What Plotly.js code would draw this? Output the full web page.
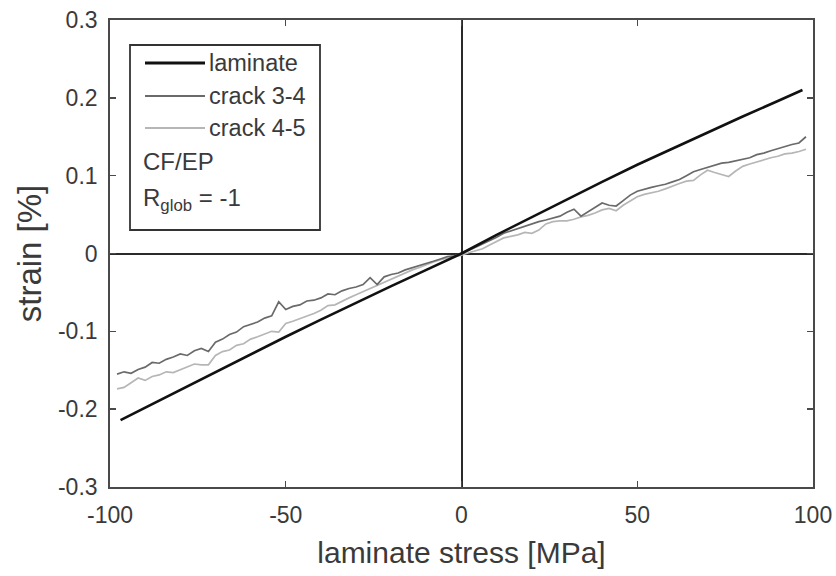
<!DOCTYPE html>
<html>
<head>
<meta charset="utf-8">
<script src="https://cdn.plot.ly/plotly-3.0.1.min.js"></script>
<style>
  html, body { margin: 0; padding: 0; background: #fff; }
  #chart { width: 836px; height: 576px; }
</style>
</head>
<body>
<div id="chart"></div>
<script>
// ---- data ----
const laminateStress = [-97, -90, -80, -70, -60, -50, -40, -30, -20, -10, 0, 10, 20, 30, 40, 50, 60, 70, 80, 90, 97];
const laminateStrain = [-0.214, -0.198, -0.176, -0.153, -0.130, -0.107, -0.085, -0.063, -0.042, -0.021, 0.000,
                        0.024, 0.047, 0.070, 0.092, 0.114, 0.135, 0.156, 0.176, 0.196, 0.210];

const crackStress = [-98, -96, -94, -92, -90, -88, -86, -84, -82, -80, -78, -76, -74, -72, -70, -68, -66, -64, -62, -60,
                     -58, -56, -54, -52, -50, -48, -46, -44, -42, -40, -38, -36, -34, -32, -30, -28, -26, -24, -22, -20,
                     -18, -16, -14, -12, -10, -8, -6, -4, -2, 0, 2, 4, 6, 8, 10, 12, 14, 16, 18, 20,
                     22, 24, 26, 28, 30, 32, 34, 36, 38, 40, 42, 44, 46, 48, 50, 52, 54, 56, 58, 60,
                     62, 64, 66, 68, 70, 72, 74, 76, 78, 80, 82, 84, 86, 88, 90, 92, 94, 96, 98];

const crack34Strain = [-0.155, -0.152, -0.154, -0.149, -0.146, -0.140, -0.141, -0.136, -0.133, -0.129,
                       -0.131, -0.125, -0.122, -0.126, -0.114, -0.110, -0.104, -0.101, -0.094, -0.091,
                       -0.088, -0.083, -0.080, -0.062, -0.072, -0.068, -0.066, -0.061, -0.060, -0.057,
                       -0.052, -0.053, -0.048, -0.045, -0.043, -0.040, -0.031, -0.040, -0.030, -0.027,
                       -0.025, -0.021, -0.018, -0.016, -0.012, -0.010, -0.007, -0.004, -0.003, 0.000,
                       0.004, 0.008, 0.012, 0.017, 0.021, 0.026, 0.029, 0.032, 0.036, 0.038,
                       0.041, 0.043, 0.046, 0.048, 0.053, 0.057, 0.048, 0.054, 0.060, 0.065,
                       0.062, 0.061, 0.068, 0.075, 0.080, 0.083, 0.085, 0.087, 0.089, 0.092,
                       0.095, 0.100, 0.105, 0.108, 0.111, 0.113, 0.116, 0.117, 0.119, 0.121,
                       0.123, 0.127, 0.129, 0.132, 0.135, 0.137, 0.140, 0.142, 0.150];

const crack45Strain = [-0.174, -0.172, -0.166, -0.160, -0.163, -0.158, -0.156, -0.152, -0.153, -0.149,
                       -0.146, -0.142, -0.143, -0.143, -0.131, -0.126, -0.124, -0.118, -0.116, -0.110,
                       -0.107, -0.104, -0.100, -0.101, -0.090, -0.087, -0.084, -0.080, -0.077, -0.073,
                       -0.067, -0.066, -0.061, -0.057, -0.053, -0.049, -0.045, -0.041, -0.036, -0.032,
                       -0.029, -0.025, -0.021, -0.018, -0.014, -0.011, -0.008, -0.006, -0.004, -0.002,
                       0.001, 0.004, 0.006, 0.011, 0.015, 0.020, 0.022, 0.024, 0.027, 0.026,
                       0.030, 0.038, 0.041, 0.042, 0.042, 0.044, 0.047, 0.049, 0.052, 0.056,
                       0.058, 0.055, 0.062, 0.068, 0.073, 0.076, 0.078, 0.080, 0.083, 0.087,
                       0.090, 0.093, 0.094, 0.101, 0.107, 0.104, 0.101, 0.099, 0.106, 0.112,
                       0.115, 0.118, 0.120, 0.123, 0.125, 0.128, 0.129, 0.131, 0.134];

const seriesNames = ["laminate", "crack 3-4", "crack 4-5"];
const xTickVals = [-100, -50, 0, 50, 100];
const xTickText = ["-100", "-50", "0", "50", "100"];
const yTickVals = [-0.3, -0.2, -0.1, 0, 0.1, 0.2, 0.3];
const yTickText = ["-0.3", "-0.2", "-0.1", "0", "0.1", "0.2", "0.3"];
const infoLines = ["CF/EP", "R<sub>glob</sub>&nbsp;= -1"];

// ---- styling ----
const FONT = "Liberation Sans, Arial, Helvetica, sans-serif";
const TXT = "#3a3a3a";
const colors = ["#111111", "#6a6a6a", "#b6b6b6"];
const widths = [2.6, 1.7, 1.7];

const traces = [
  { x: crackStress, y: crack45Strain, name: seriesNames[2] },
  { x: crackStress, y: crack34Strain, name: seriesNames[1] },
  { x: laminateStress, y: laminateStrain, name: seriesNames[0] }
].map(t => {
  const i = seriesNames.indexOf(t.name);
  return Object.assign(t, { type: "scatter", mode: "lines", line: { color: colors[i], width: widths[i] }, showlegend: false });
});

// hand-built legend (MATLAB style box)
const L = { l: 110, t: 20, w: 703, h: 467 };
const px = v => (v - L.l) / L.w;
const py = v => (L.t + L.h - v) / L.h;
const rowY = [63, 96, 128];
const legendLineWidth = [3.2, 1.9, 1.9];
const shapes = [
  { type: "rect", xref: "paper", yref: "paper", x0: px(130), x1: px(320), y0: py(230), y1: py(45),
    line: { color: "#333", width: 1.8 }, fillcolor: "#fff", layer: "above" }
];
const annotations = [];
seriesNames.forEach((n, i) => {
  shapes.push({ type: "line", xref: "paper", yref: "paper", x0: px(145), x1: px(205), y0: py(rowY[i]), y1: py(rowY[i]),
    line: { color: colors[i], width: legendLineWidth[i] }, layer: "above" });
  annotations.push({ xref: "paper", yref: "paper", x: px(207), y: py(rowY[i]), xanchor: "left", yanchor: "middle",
    text: n, showarrow: false, font: { family: FONT, size: 23.5, color: TXT } });
});
const infoY = [162, 199];
infoLines.forEach((t, i) => {
  annotations.push({ xref: "paper", yref: "paper", x: px(141), y: py(infoY[i]), xanchor: "left", yanchor: "middle",
    text: t, showarrow: false, font: { family: FONT, size: 24, color: TXT } });
});

const axisCommon = {
  showgrid: false, zeroline: true, zerolinecolor: "#2a2a2a", zerolinewidth: 2,
  showline: true, linecolor: "#4a4a4a", linewidth: 1.8, mirror: "ticks",
  ticks: "inside", ticklen: 6, tickwidth: 1.4, tickcolor: "#4a4a4a",
  tickfont: { family: FONT, size: 23, color: TXT }, tickmode: "array"
};

const layout = {
  width: 836, height: 576,
  margin: { l: 110, r: 23, t: 20, b: 89 },
  paper_bgcolor: "#fff", plot_bgcolor: "#fff",
  xaxis: Object.assign({}, axisCommon, {
    range: [-100, 100], tickvals: xTickVals, ticktext: xTickText, ticklabelstandoff: 7,
    title: { text: "laminate stress [MPa]", font: { family: FONT, size: 30, color: TXT }, standoff: 14 }
  }),
  yaxis: Object.assign({}, axisCommon, {
    range: [-0.3, 0.3], tickvals: yTickVals, ticktext: yTickText, ticklabelstandoff: 6,
    title: { text: "strain [%]", font: { family: FONT, size: 33, color: TXT }, standoff: 6 }
  }),
  shapes: shapes,
  annotations: annotations
};

Plotly.newPlot("chart", traces, layout, { staticPlot: true, displayModeBar: false });
</script>
</body>
</html>
